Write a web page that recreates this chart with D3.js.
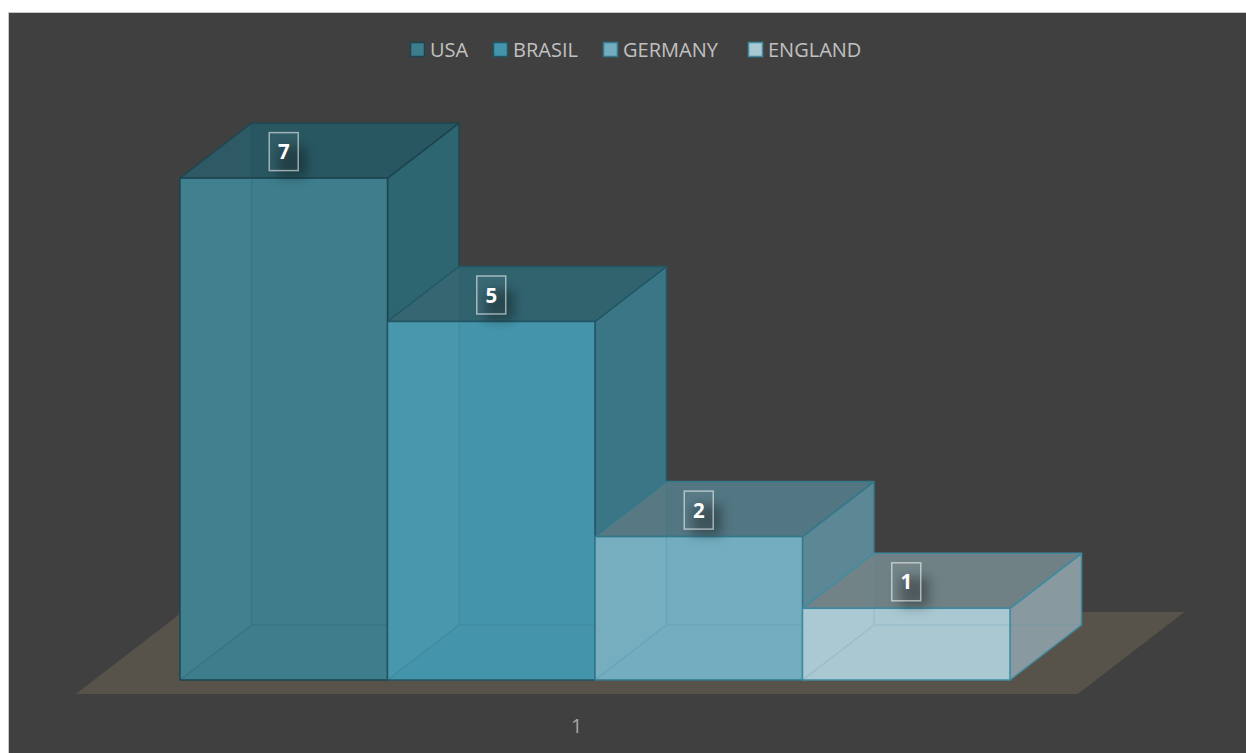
<!DOCTYPE html>
<html><head><meta charset="utf-8">
<script src="https://cdn.jsdelivr.net/npm/d3@7"></script>
<style>body{margin:0;background:#fff;overflow:hidden} svg{display:block}</style>
</head><body>
<svg id="c" width="1246" height="753"></svg>
<script>
const categories = ["1"];
const series = ["USA", "BRASIL", "GERMANY", "ENGLAND"];
const values = [7, 5, 2, 1];
const yDomain = [0, 8];

const frontColors = ["#3d7d8c", "#4495ab", "#73adbf", "#a9c8d2"];
const topColors   = ["#285761", "#31636f", "#527682", "#6f8185"];
const sideColors  = ["#2d6571", "#3a7686", "#5c8896", "#889aa0"];
const edgeColors  = ["#1d4550", "#215664", "#33788b", "#3f8aa0"];

const svg = d3.select("#c");
const W = 1246, H = 753;

// chart area
svg.append("rect").attr("x", 8.5).attr("y", 12.5).attr("width", W).attr("height", H)
  .attr("fill", "#404040").attr("stroke", "#c8c8c8").attr("stroke-width", 1);

const x = d3.scaleBand().domain(series).range([180, 1010]).paddingInner(0).paddingOuter(0);
const xCat = d3.scaleBand().domain(categories).range([180, 1010]);
const y = d3.scaleLinear().domain(yDomain).range([680, 680 - 8 * 71.7]);
const DX = 71.5, DY = -55;           // depth vector
const k = DX / -DY;

const pt = (px, py) => px + "," + py;

// floor
const fp = 86, fFront = 14, fBack = 68;
const fx0 = xCat.range()[0] - fp, fx1 = xCat.range()[1] + fp;
const floorPts = [
  [fx0 - fFront * k, y(0) + fFront],
  [fx1 - fFront * k, y(0) + fFront],
  [fx1 + fBack * k, y(0) - fBack],
  [fx0 + fBack * k, y(0) - fBack]
];
svg.append("polygon").attr("points", floorPts.map(p => pt(p[0], p[1])).join(" "))
  .attr("fill", "#57534b");

// shadow filter
const defs = svg.append("defs");
defs.append("filter").attr("id", "blur").attr("x", "-50%").attr("y", "-50%").attr("width", "200%").attr("height", "200%")
  .append("feGaussianBlur").attr("stdDeviation", 6);

// bars
const g = svg.append("g");
series.forEach((s, i) => {
  const x0 = x(s), x1 = x(s) + x.bandwidth();
  const yb = y(0), yt = y(values[i]);
  const bg = g.append("g");
  const ec = edgeColors[i];
  // right face
  bg.append("polygon").attr("points", [pt(x1, yt), pt(x1 + DX, yt + DY), pt(x1 + DX, yb + DY), pt(x1, yb)].join(" "))
    .attr("fill", sideColors[i]).attr("stroke", ec).attr("stroke-width", 1.5).attr("stroke-linejoin", "round");
  // top face
  bg.append("polygon").attr("points", [pt(x0, yt), pt(x1, yt), pt(x1 + DX, yt + DY), pt(x0 + DX, yt + DY)].join(" "))
    .attr("fill", topColors[i]).attr("stroke", ec).attr("stroke-width", 1.5).attr("stroke-linejoin", "round");
  // front face
  bg.append("rect").attr("x", x0).attr("y", yt).attr("width", x1 - x0).attr("height", yb - yt)
    .attr("fill", frontColors[i]);
  // left side seen through front (subtle)
  bg.append("polygon").attr("points", [pt(x0, yt), pt(x0 + DX, yt + DY), pt(x0 + DX, yb + DY), pt(x0, yb)].join(" "))
    .attr("fill", "#ffffff").attr("fill-opacity", 0.025);
  // hidden back edges
  bg.append("path")
    .attr("d", `M${x0 + DX},${yt + DY}L${x0 + DX},${yb + DY}L${x1 + DX},${yb + DY}M${x0 + DX},${yb + DY}L${x0},${yb}`)
    .attr("fill", "none").attr("stroke", ec).attr("stroke-opacity", 0.18).attr("stroke-width", 1.2);
  // front outline
  bg.append("rect").attr("x", x0).attr("y", yt).attr("width", x1 - x0).attr("height", yb - yt)
    .attr("fill", "none").attr("stroke", ec).attr("stroke-width", 1.5);
});

// labels
series.forEach((s, i) => {
  const cx = x(s) + x.bandwidth() / 2;
  const cy = y(values[i]) + DY / 2 + 1;
  const bw = 29, bh = 38;
  svg.append("rect").attr("x", cx - bw / 2 + 8).attr("y", cy - bh / 2 + 14).attr("width", bw).attr("height", bh - 8)
    .attr("fill", "#000").attr("fill-opacity", 0.35).attr("filter", "url(#blur)");
  svg.append("rect").attr("x", cx - bw / 2).attr("y", cy - bh / 2).attr("width", bw).attr("height", bh)
    .attr("fill", "#ffffff").attr("fill-opacity", 0.04)
    .attr("stroke", "#ffffff").attr("stroke-opacity", 0.55).attr("stroke-width", 1.5);
  svg.append("text").attr("x", cx).attr("y", cy + 7.5).attr("text-anchor", "middle")
    .attr("font-family", "Open Sans").attr("font-weight", "bold").attr("font-size", 20.5)
    .attr("fill", "#ffffff").text(values[i]);
});

// category label
svg.append("text").attr("x", (floorPts[0][0] + floorPts[1][0]) / 2).attr("y", 733)
  .attr("text-anchor", "middle").attr("font-family", "Open Sans").attr("font-size", 20)
  .attr("fill", "#a6a6a6").text(categories[0]);

// legend
const legX = [410, 493, 603, 748];
const leg = svg.append("g");
series.forEach((s, i) => {
  leg.append("rect").attr("x", legX[i] + 0.5).attr("y", 42.5).attr("width", 14).attr("height", 14)
    .attr("fill", frontColors[i]).attr("stroke", edgeColors[i]).attr("stroke-width", 1.5);
  leg.append("text").attr("x", legX[i] + 20).attr("y", 57)
    .attr("font-family", "Open Sans").attr("font-size", 20).attr("fill", "#c0c0c0").text(s);
});
</script>
</body></html>
